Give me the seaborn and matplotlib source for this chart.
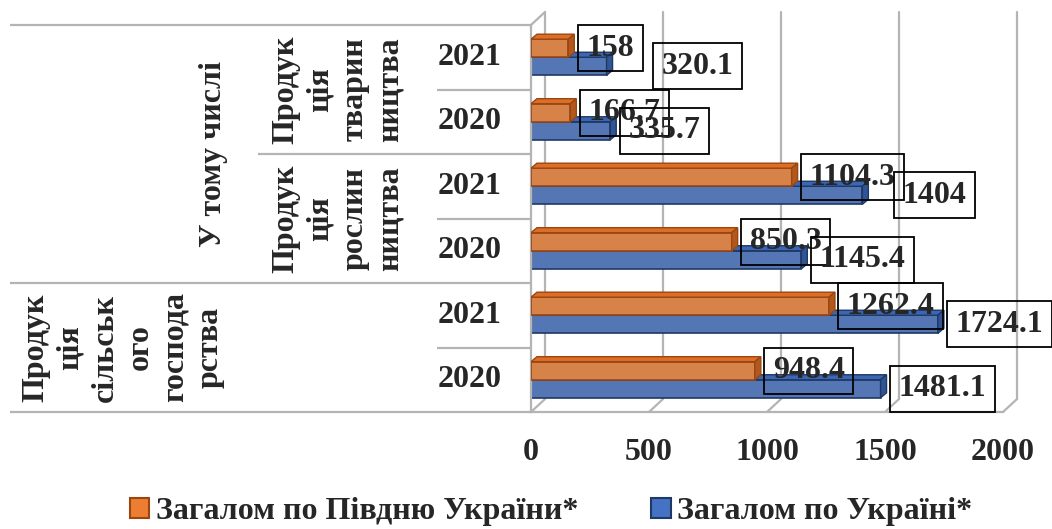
import pandas as pd
import matplotlib.pyplot as plt
import seaborn as sns
from matplotlib.patches import Polygon, Patch

# ---------------------------
# Data (rows listed top to bottom)
# ---------------------------
years = ['2021', '2020', '2021', '2020', '2021', '2020']
groups = ['тваринництва', 'тваринництва', 'рослинництва', 'рослинництва',
          'сільського господарства', 'сільського господарства']
south = [158, 166.7, 1104.3, 850.3, 1262.4, 948.4]
ukraine = [320.1, 335.7, 1404, 1145.4, 1724.1, 1481.1]
series = ['Загалом по Півдню України*', 'Загалом по Україні*']
x_ticks = [0, 500, 1000, 1500, 2000]

# category labels of the table on the left
label_animal = 'Продук\nція\nтварин\nництва'
label_crop = 'Продук\nція\nрослин\nництва'
label_total = 'Продук\nція\nсільськ\nого\nгоспода\nрства'
label_incl = 'У тому числі'

rows = [g + ' ' + y for g, y in zip(groups, years)]
df = pd.DataFrame({
    'row': rows * 2,
    'value': south + ukraine,
    'series': [series[0]] * len(rows) + [series[1]] * len(rows),
})

# ---------------------------
# Style
# ---------------------------
sns.set_style('white')
plt.rcParams['font.family'] = ['Liberation Serif', 'DejaVu Serif']
plt.rcParams['font.weight'] = 'bold'
FS = 23

orange, orange_top, orange_side, orange_edge = '#ED7D31', '#DC6E26', '#B2581C', '#9A4612'
blue, blue_top, blue_side, blue_edge = '#4472C4', '#3C66B4', '#2F5597', '#1F3864'
grid = '#B4B4B4'

W, H = 1052, 529
fig = plt.figure(figsize=(W / 100, H / 100), dpi=100)


def px(x0, y0, x1, y1):
    return [x0 / W, 1 - y1 / H, (x1 - x0) / W, (y1 - y0) / H]


ax = fig.add_axes(px(531, 25, 1003, 412))

sns.barplot(data=df, y='row', x='value', hue='series', orient='h',
            palette=[orange, blue], width=0.56, legend=False, ax=ax)
ax.set_xlim(0, 2000)
ax.set_ylim(len(rows) - 0.5, -0.5)

# pixel -> data helpers
ux = 2000 / 472
uy = 1 / 64.5
dx, dy = 6 * ux, 5 * uy          # bar depth
wx, wy = 14 * ux, 13 * uy        # back wall offset

# 3D look for the bars
styles = [(orange_top, orange_side, orange_edge, 3), (blue_top, blue_side, blue_edge, 2)]
for cont, (ctop, cside, cedge, z) in zip(ax.containers, styles):
    for bar in cont:
        bar.set_edgecolor(cedge)
        bar.set_linewidth(1.2)
        bar.set_zorder(z)
        x0, y0 = bar.get_x(), bar.get_y()
        w, h = bar.get_width(), bar.get_height()
        top = [(x0, y0), (x0 + w, y0), (x0 + w + dx, y0 - dy), (x0 + dx, y0 - dy)]
        side = [(x0 + w, y0), (x0 + w + dx, y0 - dy), (x0 + w + dx, y0 + h - dy), (x0 + w, y0 + h)]
        ax.add_patch(Polygon(top, fc=ctop, ec=cedge, lw=1.0, zorder=z))
        ax.add_patch(Polygon(side, fc=cside, ec=cedge, lw=1.0, zorder=z))

# back wall gridlines and floor
ytop, ybot = -0.5, len(rows) - 0.5
for t in x_ticks:
    ax.plot([t + wx, t + wx], [ytop - wy, ybot - wy], color=grid, lw=1.6, zorder=0.5, clip_on=False)
    ax.plot([t, t + wx], [ybot, ybot - wy], color=grid, lw=1.6, zorder=0.5, clip_on=False)
ax.plot([0, wx], [ytop, ytop - wy], color=grid, lw=1.6, zorder=0.5, clip_on=False)

# data labels
nudge = {(1, 0): 37, (1, 2): 22}
for k, cont in enumerate(ax.containers):
    for j, bar in enumerate(cont):
        v = bar.get_width()
        yc = bar.get_y() + bar.get_height() / 2
        off = (18 + nudge.get((k, j), 0)) * 0.72
        ax.annotate(f'{v:g}', (v, yc), xytext=(off, 0), textcoords='offset points',
                    ha='left', va='center', fontsize=FS, fontweight='bold', zorder=6,
                    bbox=dict(boxstyle='square,pad=0.27', fc='none', ec='black', lw=1.3))

# axes look
ax.set_xticks(x_ticks)
ax.set_yticks([])
ax.set_xlabel('')
ax.set_ylabel('')
for s in ['top', 'right']:
    ax.spines[s].set_visible(False)
for s in ['left', 'bottom']:
    ax.spines[s].set_color(grid)
    ax.spines[s].set_linewidth(1.6)
ax.tick_params(axis='x', length=8, width=1.6, color=grid, pad=11, labelsize=FS)

# ---------------------------
# Category table on the left
# ---------------------------
lab = fig.add_axes(px(0, 25, 531, 412))
lab.set_xlim(0, 531)
lab.set_ylim(6, 0)
lab.axis('off')
lab.hlines([0, 4, 6], 10, 531, color=grid, lw=1.6, clip_on=False)
lab.hlines([2], 258, 531, color=grid, lw=1.6, clip_on=False)
lab.hlines([1, 3, 5], 437, 531, color=grid, lw=1.6, clip_on=False)

for i, yr in enumerate(years):
    lab.text(470, i + 0.5, yr, ha='center', va='center', fontsize=FS, fontweight='bold')

kw = dict(rotation=90, ha='center', va='center', multialignment='center',
          fontsize=FS, fontweight='bold', linespacing=1.27)
lab.text(338, 1, label_animal, **kw)
lab.text(338, 3, label_crop, **kw)
lab.text(214, 2, label_incl, **kw)
lab.text(123, 5, label_total, **kw)

# ---------------------------
# Legend
# ---------------------------
handles = [Patch(fc=orange, ec=orange_edge, lw=1.5, label=series[0]),
           Patch(fc=blue, ec=blue_edge, lw=1.5, label=series[1])]
fig.legend(handles=handles, loc='center', bbox_to_anchor=(551 / W, 1 - 512 / H),
           ncol=2, frameon=False, fontsize=FS, handlelength=0.6, handleheight=0.6,
           handletextpad=0.2, columnspacing=2.3, borderpad=0)

fig.savefig('out.png', dpi=100)
